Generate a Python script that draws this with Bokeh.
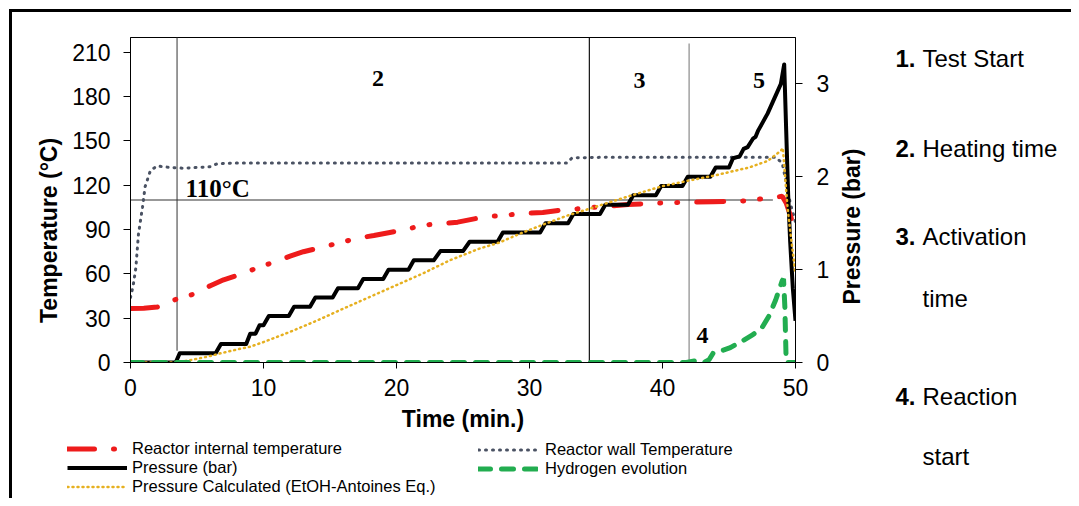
import math
from bokeh.plotting import figure
from bokeh.layouts import row, column
from bokeh.models import (Range1d, LinearAxis, FixedTicker, Legend, LegendItem, Label)
from bokeh.core.properties import value
from bokeh.embed import file_html
from bokeh.resources import INLINE

# ---------------- data ----------------
time_ticks = [0, 10, 20, 30, 40, 50]
temp_ticks = [0, 30, 60, 90, 120, 150, 180, 210]
pressure_ticks = [0, 1, 2, 3]

# Reactor internal temperature (degC)
int_t = [0, 1, 2, 2.5, 3.4, 4.9, 6, 7, 8.4, 9.5, 10.8, 12, 13, 14.4, 15.7, 17, 18.3,
         19.5, 20.7, 22, 23.5, 24.6, 26, 27.2, 28.5, 29.7, 31, 32.3, 33.6, 34.8, 36.2,
         37.4, 38.7, 40, 41.2, 42.6, 43.8, 45, 46.4, 47.6, 48.5, 49, 49.3, 49.6, 50]
int_T = [36.6, 36.8, 37.5, 38.6, 42.7, 46.7, 52, 56, 60, 64, 68, 72, 75, 78, 81, 84, 86,
         88, 90, 93, 94, 95, 97.5, 99, 100, 101, 101.6, 103, 104, 105, 106,
         107, 107.5, 108, 108.3, 108.6, 108.8, 109, 109.5, 111, 112, 112.5, 108, 100, 88]

# Reactor wall temperature (degC)
wall_t = [0, 0.2, 0.4, 0.6, 0.9, 1.1, 1.5, 2, 3, 4, 5, 6, 6.5, 8, 10, 15, 20, 25, 30,
          32.8, 33.2, 36, 40, 45, 48.5, 49, 49.3, 49.6, 50]
wall_T = [44, 52, 64, 87, 105, 119, 130, 133, 132, 131.5, 132, 132.5, 134.5, 135, 135,
          135, 135, 135, 135, 135, 138.5, 139, 139, 139, 139, 135, 122, 108, 95]

# Pressure (bar)
pres_t = [0, 3.4, 3.7, 6.4, 6.8, 8.7, 9.0, 9.4, 9.7, 10.0, 10.4, 11.9, 12.3, 13.5, 13.9,
          15.2, 15.6, 17.1, 17.5, 19.0, 19.4, 20.9, 21.3, 22.8, 23.3, 25.0, 25.5, 27.6,
          28.0, 30.8, 31.2, 32.9, 33.3, 35.3, 35.7, 37.4, 37.8, 39.5, 39.9, 41.5, 41.9,
          43.6, 44.0, 45.0, 45.3, 45.8, 46.1, 46.4, 46.8, 47.0, 47.2, 47.9, 48.9, 49.15,
          49.3, 49.45, 49.6, 49.8, 50]
pres_v = [0, 0, 0.1, 0.1, 0.2, 0.2, 0.31, 0.31, 0.4, 0.4, 0.5, 0.5, 0.6, 0.6, 0.7,
          0.7, 0.8, 0.8, 0.9, 0.9, 1.0, 1.0, 1.1, 1.1, 1.2, 1.2, 1.3, 1.3,
          1.4, 1.4, 1.5, 1.5, 1.6, 1.6, 1.7, 1.7, 1.8, 1.8, 1.9, 1.9, 2.0,
          2.0, 2.1, 2.1, 2.2, 2.22, 2.3, 2.32, 2.41, 2.43, 2.5, 2.68, 3.0, 3.21,
          2.5, 1.8, 1.3, 0.8, 0.45]

# Pressure calculated (EtOH - Antoine eq.) (bar)
calc_t = [0, 3.5, 4.3, 5, 6, 6.8, 8, 9, 10, 12, 14, 16, 19, 22, 24, 26.3, 27.7, 29.5,
          31.3, 33, 34.6, 37, 40, 42, 43.8, 45.3, 46.5, 47.9, 48.9, 49.05, 49.4, 49.7, 50]
calc_v = [0, 0, 0.02, 0.04, 0.07, 0.1, 0.14, 0.17, 0.22, 0.33, 0.45, 0.58, 0.77, 0.96,
          1.1, 1.23, 1.29, 1.4, 1.5, 1.59, 1.66, 1.77, 1.9, 1.96, 2.01, 2.06, 2.1, 2.17,
          2.28, 2.31, 1.67, 1.3, 0.95]

# Hydrogen evolution (pressure-axis scale)
h2_t = [0, 41.8, 42.5, 43.1, 43.5, 43.8, 44.5, 45.1, 46.1, 46.8, 47.5, 48.0, 48.5,
        49.0, 49.1, 49.2, 49.3, 50]
h2_v = [0, 0, 0.02, 0.0, 0.03, 0.1, 0.13, 0.16, 0.24, 0.3, 0.38, 0.5, 0.67,
        0.88, 0.9, 0.6, 0.0, 0.0]

# phase boundaries and the 110 degC reference line
phase_t = [3.5, 34.5, 42.0]
phase_lo = [8, 0, 0]
phase_hi = [220, 220, 216]
phase_col = ["#555555", "#111111", "#8a8a8a"]
ref_temp = 110
ref_end = 48.3

series_names = ["Reactor internal temperature", "Reactor wall Temperature",
                "Pressure (bar)", "Hydrogen evolution",
                "Pressure Calculated (EtOH-Antoines Eq.)"]
notes_num = ["1.", "2.", "3.", "", "4.", ""]
notes_txt = ["Test Start", "Heating time", "Activation", "time", "Reaction", "start"]

FONT = "Liberation Sans"
SERIF = "Liberation Serif"
NAN = float("nan")

# line styles
ST_INT = dict(line_color="#ee1b1b", line_width=5, line_dash="27 19 1 16 1 19", line_cap="round")
ST_WALL = dict(line_color="#4a5263", line_width=3, line_dash="1 6", line_cap="round")
ST_PRES = dict(line_color="black", line_width=4, line_join="round")
ST_CALC = dict(line_color="#e6b020", line_width=2.5, line_dash="1 4", line_cap="round")
ST_H2 = dict(line_color="#22ad50", line_width=5, line_dash="12 11", line_cap="round")

TOTAL_H = 498
MAIN_H = 436
LEFT_W = 64
MAIN_W = 771
SIDE_W = 236
SIDE_X0 = LEFT_W + MAIN_W  # 835


def blank(width, height, xr, yr):
    f = figure(width=width, height=height, output_backend="svg", toolbar_location=None,
               x_range=xr if not isinstance(xr, tuple) else Range1d(*xr),
               y_range=yr if not isinstance(yr, tuple) else Range1d(*yr),
               x_axis_location=None, y_axis_location=None,
               min_border=0, min_border_left=0, min_border_right=0,
               min_border_top=0, min_border_bottom=0)
    f.xgrid.visible = False
    f.ygrid.visible = False
    f.outline_line_color = None
    f.border_fill_alpha = 0
    f.background_fill_alpha = 0
    return f


# ---------------- main chart ----------------
p = figure(width=MAIN_W, height=MAIN_H, output_backend="svg", toolbar_location=None,
           x_range=Range1d(0, 50), y_range=Range1d(0, 220),
           min_border_left=130 - LEFT_W, min_border_right=SIDE_X0 - 795,
           min_border_top=37, min_border_bottom=MAIN_H - 362)
p.extra_y_ranges = {"pres": Range1d(0, 3.5)}
p.xgrid.visible = False
p.ygrid.visible = False
p.outline_line_color = "black"
p.outline_line_width = 1
p.background_fill_color = "white"
p.border_fill_alpha = 0

right_axis = LinearAxis(y_range_name="pres")
p.add_layout(right_axis, "right")

p.xaxis.ticker = FixedTicker(ticks=time_ticks)
p.yaxis[0].ticker = FixedTicker(ticks=temp_ticks)
right_axis.ticker = FixedTicker(ticks=pressure_ticks)

for ax in [p.xaxis[0], p.yaxis[0], right_axis]:
    ax.major_label_text_font = FONT
    ax.major_label_text_font_size = "23px"
    ax.major_label_text_color = "black"
    ax.axis_line_color = "black"
    ax.axis_line_width = 1
    ax.major_tick_line_color = "black"
    ax.minor_tick_line_color = None
    ax.major_tick_in = 0
    ax.major_tick_out = 7
p.xaxis[0].major_tick_out = 6
p.xaxis[0].major_label_standoff = 10
p.yaxis[0].major_label_standoff = 13
right_axis.major_label_standoff = 14

p.xaxis[0].axis_label = "Time (min.)"
p.xaxis[0].axis_label_text_font = FONT
p.xaxis[0].axis_label_text_font_size = "23px"
p.xaxis[0].axis_label_text_font_style = "bold"
p.xaxis[0].axis_label_text_color = "black"
p.xaxis[0].axis_label_standoff = 7

# phase lines
p.segment(x0=phase_t, y0=phase_lo, x1=phase_t, y1=phase_hi,
          line_color=phase_col, line_width=1.2)
p.segment(x0=[0], y0=[ref_temp], x1=[ref_end], y1=[ref_temp],
          line_color="#333333", line_width=1.2)

# series
p.line(wall_t, wall_T, **ST_WALL)
p.line(int_t, int_T, **ST_INT)
p.line(pres_t, pres_v, y_range_name="pres", **ST_PRES)
p.line(calc_t, calc_v, y_range_name="pres", **ST_CALC)
p.line(h2_t, h2_v, y_range_name="pres", **ST_H2)

# phase numbers inside the plot (positions are glyph centres)
for tx, ty, tt in [(18.6, 192.4, "2"), (38.27, 191.0, "3"), (47.26, 191.0, "5"),
                   (43.0, 18.3, "4")]:
    p.add_layout(Label(x=tx, y=ty, text=tt, text_align="center",
                       text_baseline="middle", text_font=SERIF,
                       text_font_size="24px", text_font_style="bold",
                       text_color="black"))
p.add_layout(Label(x=4.14, y=117.5, text="110°C", text_align="left",
                   text_baseline="middle", text_font=SERIF,
                   text_font_size="25px", text_font_style="bold", text_color="black"))

# ---------------- left strip: temperature title ----------------
left = blank(LEFT_W, MAIN_H, (0, LEFT_W), p.y_range)
left.text(x=[48], y=[89.4], text=["Temperature (°C)"], angle=math.pi / 2,
          text_align="center", text_baseline="middle", text_font=value(FONT),
          text_font_size=value("23px"), text_font_style=value("bold"), text_color="black")

# ---------------- legend strip ----------------
LEG_H = TOTAL_H - MAIN_H
leg = blank(SIDE_X0, LEG_H, (0, SIDE_X0), (0, LEG_H))
l_int = leg.line([NAN], [NAN], **ST_INT)
l_wall = leg.line([NAN], [NAN], **ST_WALL)
l_pres = leg.line([NAN], [NAN], **ST_PRES)
l_h2 = leg.line([NAN], [NAN], **ST_H2)
l_calc = leg.line([NAN], [NAN], **ST_CALC)


def make_legend(items, loc, standoff):
    return Legend(items=items, location=loc, orientation="vertical",
                  padding=0, margin=0, spacing=0, glyph_width=60, glyph_height=17,
                  label_height=17, label_standoff=standoff,
                  label_text_font=FONT, label_text_font_size="16.5px",
                  label_text_color="black",
                  border_line_alpha=0, background_fill_alpha=0)


leg1 = make_legend([LegendItem(label=series_names[0], renderers=[l_int]),
                    LegendItem(label=series_names[2], renderers=[l_pres]),
                    LegendItem(label=series_names[4], renderers=[l_calc])],
                   (67, 2), 5)
leg2 = make_legend([LegendItem(label=series_names[1], renderers=[l_wall]),
                    LegendItem(label=series_names[3], renderers=[l_h2])],
                   (478, 20), 7)
leg.add_layout(leg1)
leg.add_layout(leg2)

# ---------------- right side: pressure title and notes ----------------
side = blank(SIDE_W, TOTAL_H, (0, SIDE_W), (0, TOTAL_H))
side.text(x=[851 - SIDE_X0], y=[TOTAL_H - 226], text=["Pressure (bar)"], angle=math.pi / 2,
          text_align="center", text_baseline="middle", text_font=value(FONT),
          text_font_size=value("23px"), text_font_style=value("bold"), text_color="black")
note_mid = [57.5, 147.5, 235.5, 297.5, 395.5, 455.5]
num_x = [895 - SIDE_X0] * len(notes_num)
txt_x = [922 - SIDE_X0] * len(notes_txt)
note_y = [TOTAL_H - b for b in note_mid]
side.text(x=num_x, y=note_y, text=notes_num, text_align="left",
          text_baseline="middle", text_font=value(FONT),
          text_font_size=value("24px"), text_font_style=value("bold"), text_color="black")
side.text(x=txt_x, y=note_y, text=notes_txt, text_align="left",
          text_baseline="middle", text_font=value(FONT),
          text_font_size=value("24px"), text_color="black")

root = row(column(row(left, p), leg), side)
root.styles = {"box-shadow": "inset 9px 9px 0 0 white, inset 12px 12px 0 0 black",
               "background-color": "white"}

open("out.html", "w").write(file_html(root, INLINE))
